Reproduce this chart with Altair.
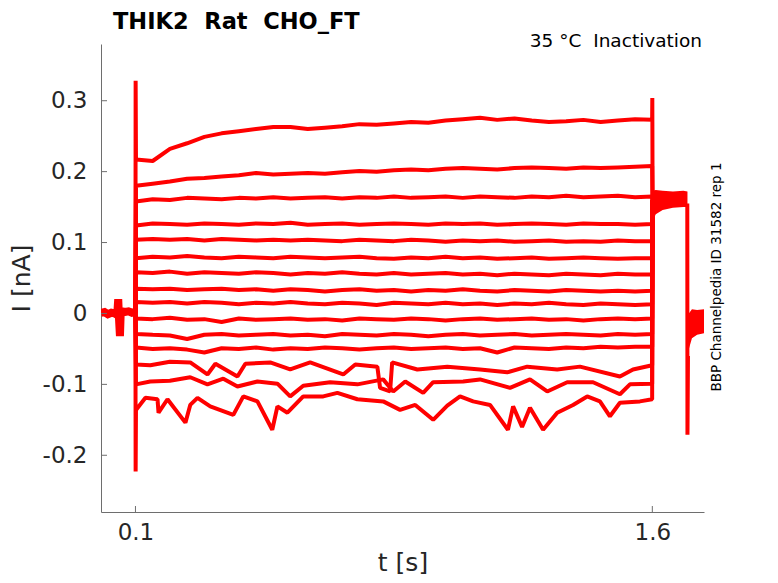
import altair as alt
import pandas as pd

FONT = "DejaVu Sans"
RED = "#ff0000"
AXIS_GRAY = "#6e6e6e"
LABEL_COLOR = "#262626"

# double gaps kept with a no-break space, SVG text would fold them otherwise
TITLE = "THIK2 \u00a0Rat \u00a0CHO_FT"
SUBTITLE = "35 °C \u00a0Inactivation"
SIDE_NOTE = "BBP Channelpedia ID 31582 rep 1"

X_TICKS = [0.1, 1.6]
Y_TICKS = [-0.2, -0.1, 0, 0.1, 0.2, 0.3]

# holding current before the step (all sweeps overlap here)
PRE_T = [0.0, 0.01, 0.02, 0.03, 0.04, 0.047, 0.05, 0.052, 0.055, 0.057, 0.06, 0.07, 0.08, 0.09, 0.0995]
PRE_I = [0.001, 0.002, -0.001, 0.001, 0.0, -0.002, 0.020, -0.005, -0.032, -0.002, 0.003, 0.002, 0.003, 0.001, 0.002]

# capacitive spikes at the step edges
SPIKE_ON_TOP = 0.328
SPIKE_ON_BOTTOM = -0.223
SPIKE_OFF_TOP = 0.304

# sampling times for the flatter sweeps
T_GRID = [0.1015, 0.15, 0.2, 0.25, 0.3, 0.35, 0.4, 0.45, 0.5, 0.55, 0.6, 0.65, 0.7, 0.75,
          0.8, 0.85, 0.9, 0.95, 1.0, 1.05, 1.1, 1.15, 1.2, 1.25, 1.3, 1.35, 1.4, 1.45,
          1.5, 1.55, 1.5995]

SWEEP_01 = [0.217, 0.215, 0.232, 0.240, 0.249, 0.254, 0.257, 0.260, 0.263, 0.263, 0.260, 0.262,
            0.264, 0.267, 0.266, 0.268, 0.270, 0.269, 0.272, 0.274, 0.276, 0.273, 0.275, 0.272,
            0.270, 0.271, 0.273, 0.270, 0.272, 0.274, 0.273]
SWEEP_02 = [0.180, 0.183, 0.186, 0.190, 0.191, 0.193, 0.195, 0.198, 0.196, 0.197, 0.198, 0.197,
            0.199, 0.201, 0.200, 0.202, 0.203, 0.202, 0.204, 0.205, 0.204, 0.203, 0.205, 0.206,
            0.205, 0.204, 0.206, 0.205, 0.206, 0.207, 0.208]
SWEEP_03 = [0.158, 0.161, 0.160, 0.163, 0.162, 0.161, 0.163, 0.162, 0.164, 0.162, 0.163, 0.164,
            0.162, 0.164, 0.163, 0.165, 0.163, 0.164, 0.165, 0.163, 0.165, 0.164, 0.163, 0.165,
            0.164, 0.166, 0.164, 0.165, 0.166, 0.164, 0.165]
SWEEP_04 = [0.124, 0.127, 0.126, 0.125, 0.127, 0.126, 0.125, 0.127, 0.126, 0.128, 0.125, 0.126,
            0.127, 0.125, 0.126, 0.127, 0.126, 0.125, 0.127, 0.126, 0.127, 0.125, 0.126, 0.127,
            0.126, 0.125, 0.127, 0.126, 0.126, 0.125, 0.126]
SWEEP_05 = [0.104, 0.105, 0.104, 0.105, 0.103, 0.105, 0.104, 0.103, 0.104, 0.103, 0.104, 0.103,
            0.102, 0.104, 0.103, 0.102, 0.104, 0.103, 0.101, 0.103, 0.102, 0.103, 0.101, 0.102,
            0.103, 0.101, 0.102, 0.101, 0.103, 0.102, 0.102]
SWEEP_06 = [0.078, 0.080, 0.079, 0.081, 0.079, 0.078, 0.080, 0.079, 0.078, 0.080, 0.079, 0.078,
            0.079, 0.080, 0.078, 0.077, 0.079, 0.078, 0.080, 0.078, 0.079, 0.077, 0.078, 0.079,
            0.077, 0.078, 0.079, 0.078, 0.077, 0.078, 0.078]
SWEEP_07 = [0.058, 0.057, 0.059, 0.056, 0.058, 0.057, 0.056, 0.058, 0.057, 0.055, 0.057, 0.056,
            0.058, 0.056, 0.055, 0.057, 0.055, 0.056, 0.057, 0.055, 0.056, 0.054, 0.056, 0.055,
            0.054, 0.056, 0.055, 0.054, 0.056, 0.055, 0.055]
SWEEP_08 = [0.035, 0.034, 0.035, 0.033, 0.034, 0.035, 0.033, 0.034, 0.032, 0.034, 0.033, 0.031,
            0.033, 0.034, 0.032, 0.033, 0.031, 0.033, 0.032, 0.034, 0.032, 0.031, 0.033, 0.032,
            0.031, 0.033, 0.032, 0.031, 0.032, 0.031, 0.032]
SWEEP_09 = [0.016, 0.015, 0.016, 0.014, 0.016, 0.015, 0.013, 0.015, 0.014, 0.016, 0.014, 0.013,
            0.015, 0.014, 0.012, 0.015, 0.014, 0.013, 0.015, 0.013, 0.014, 0.012, 0.014, 0.013,
            0.015, 0.013, 0.012, 0.014, 0.013, 0.012, 0.013]
SWEEP_10 = [-0.007, -0.008, -0.006, -0.009, -0.008, -0.012, -0.007, -0.009, -0.008, -0.007, -0.009,
            -0.008, -0.010, -0.007, -0.008, -0.009, -0.007, -0.008, -0.010, -0.008, -0.007, -0.009,
            -0.008, -0.007, -0.009, -0.008, -0.010, -0.008, -0.007, -0.008, -0.007]
SWEEP_11 = [-0.029, -0.030, -0.031, -0.036, -0.030, -0.029, -0.031, -0.030, -0.029, -0.031, -0.030,
            -0.032, -0.029, -0.030, -0.031, -0.029, -0.030, -0.032, -0.030, -0.029, -0.031, -0.030,
            -0.029, -0.031, -0.030, -0.029, -0.030, -0.031, -0.029, -0.030, -0.029]
SWEEP_12 = [-0.048, -0.050, -0.049, -0.051, -0.055, -0.049, -0.050, -0.048, -0.051, -0.049, -0.050,
            -0.048, -0.049, -0.051, -0.049, -0.048, -0.050, -0.049, -0.048, -0.050, -0.049, -0.055,
            -0.048, -0.049, -0.050, -0.048, -0.049, -0.047, -0.048, -0.047, -0.047]

# the three lowest sweeps have visible dips, so they keep their own times
SWEEP_13_T = [0.1015, 0.143, 0.2, 0.259, 0.309, 0.332, 0.396, 0.419, 0.491, 0.549, 0.607, 0.703,
              0.738, 0.802, 0.810, 0.839, 0.845, 0.918, 1.005, 1.100, 1.179, 1.237, 1.324, 1.390,
              1.506, 1.544, 1.5995]
SWEEP_13 = [-0.072, -0.073, -0.068, -0.069, -0.086, -0.071, -0.089, -0.071, -0.069, -0.079, -0.069,
            -0.086, -0.072, -0.075, -0.105, -0.110, -0.069, -0.079, -0.075, -0.079, -0.083, -0.075,
            -0.079, -0.075, -0.089, -0.079, -0.073]
SWEEP_14_T = [0.1015, 0.143, 0.2, 0.259, 0.309, 0.355, 0.396, 0.454, 0.512, 0.549, 0.587, 0.665,
              0.744, 0.819, 0.848, 0.883, 0.935, 0.964, 1.051, 1.100, 1.187, 1.245, 1.295, 1.353,
              1.428, 1.506, 1.535, 1.5995]
SWEEP_14 = [-0.100, -0.096, -0.095, -0.090, -0.100, -0.092, -0.103, -0.096, -0.099, -0.117, -0.102,
            -0.097, -0.100, -0.093, -0.110, -0.096, -0.112, -0.097, -0.096, -0.093, -0.105, -0.093,
            -0.110, -0.097, -0.097, -0.114, -0.100, -0.099]
SWEEP_15_T = [0.1015, 0.129, 0.164, 0.167, 0.193, 0.245, 0.259, 0.280, 0.317, 0.384, 0.413, 0.454,
              0.497, 0.512, 0.541, 0.587, 0.645, 0.686, 0.744, 0.819, 0.868, 0.912, 0.964, 1.005,
              1.042, 1.080, 1.129, 1.181, 1.196, 1.222, 1.245, 1.283, 1.324, 1.370, 1.411, 1.448,
              1.477, 1.506, 1.564, 1.5995]
SWEEP_15 = [-0.136, -0.119, -0.121, -0.140, -0.121, -0.154, -0.129, -0.119, -0.131, -0.143, -0.117,
            -0.124, -0.164, -0.131, -0.140, -0.117, -0.117, -0.112, -0.121, -0.124, -0.136, -0.129,
            -0.150, -0.130, -0.117, -0.124, -0.129, -0.164, -0.131, -0.160, -0.133, -0.164, -0.140,
            -0.129, -0.117, -0.124, -0.145, -0.126, -0.124, -0.121]

# tail after the step: all sweeps pile up in one band, then return to holding
TAIL_START = 0.160
TAIL1_T = [1.6005, 1.61, 1.63, 1.66, 1.69, 1.702]
TAIL1_HI = [0.173, 0.174, 0.173, 0.172, 0.173, 0.172]
TAIL1_LO = [0.130, 0.140, 0.146, 0.149, 0.150, 0.150]
DROP_T = [1.7015, 1.702, 1.7035]
DROP_I = [0.155, -0.171, -0.060]
TAIL2_T = [1.7035, 1.706, 1.715, 1.73, 1.75]
TAIL2_HI = [-0.060, 0.000, 0.006, 0.005, 0.006]
TAIL2_LO = [-0.171, -0.050, -0.035, -0.030, -0.028]

GRID_SWEEPS = [SWEEP_01, SWEEP_02, SWEEP_03, SWEEP_04, SWEEP_05, SWEEP_06,
               SWEEP_07, SWEEP_08, SWEEP_09, SWEEP_10, SWEEP_11, SWEEP_12]
OWN_SWEEPS = [(SWEEP_13_T, SWEEP_13), (SWEEP_14_T, SWEEP_14), (SWEEP_15_T, SWEEP_15)]

W, H = 603, 468

rows = []


def add_rows(name, ts, vs):
    for t, v in zip(ts, vs):
        rows.append({"trace": name, "t": t, "i": v, "k": len(rows)})


sweeps = [(T_GRID, s) for s in GRID_SWEEPS] + OWN_SWEEPS
for n, (ts, vs) in enumerate(sweeps):
    head_t, head_i = [0.1], [0.0]
    tail_t, tail_i = [1.6005], [TAIL_START]
    if n == 0:
        head_t, head_i = [0.1, 0.1005], [0.0, SPIKE_ON_TOP]
        tail_t, tail_i = [1.6, 1.6008], [SPIKE_OFF_TOP, TAIL_START]
    if n == len(sweeps) - 1:
        head_t, head_i = [0.1, 0.1005], [0.0, SPIKE_ON_BOTTOM]
    add_rows(f"s{n + 1:02d}", head_t + ts + tail_t, head_i + vs + tail_i)

add_rows("pre", PRE_T, PRE_I)
add_rows("drop", DROP_T, DROP_I)
df = pd.DataFrame(rows)

bands = pd.DataFrame(
    [{"band": "a", "t": t, "i": hi, "lo": lo} for t, hi, lo in zip(TAIL1_T, TAIL1_HI, TAIL1_LO)]
    + [{"band": "b", "t": t, "i": hi, "lo": lo} for t, hi, lo in zip(TAIL2_T, TAIL2_HI, TAIL2_LO)]
)

x_enc = alt.X(
    "t:Q",
    title="t [s]",
    scale=alt.Scale(domain=[0, 1.75], nice=False, zero=False),
    axis=alt.Axis(values=X_TICKS, labelExpr="toString(datum.value)", ticks=False, grid=False,
                  labelPadding=9, titlePadding=6),
)
y_enc = alt.Y(
    "i:Q",
    title="I [nA]",
    scale=alt.Scale(domain=[-0.28, 0.38], nice=False, zero=False),
    axis=alt.Axis(values=Y_TICKS, labelExpr="toString(datum.value)", ticks=False, grid=False,
                  labelPadding=14, titlePadding=8),
)

sweep_lines = (
    alt.Chart(df[~df["trace"].isin(["pre"])])
    .mark_line(color=RED, strokeWidth=4, strokeJoin="bevel", clip=True)
    .encode(x=x_enc, y=y_enc, detail="trace:N", order="k:Q")
)
pre_line = (
    alt.Chart(df[df["trace"] == "pre"])
    .mark_line(color=RED, strokeWidth=8, clip=True)
    .encode(x=x_enc, y=y_enc, order="k:Q")
)
tail_bands = (
    alt.Chart(bands)
    .mark_area(color=RED, opacity=1, clip=True)
    .encode(x=x_enc, y=y_enc, y2="lo:Q", detail="band:N")
)

y_tick_rules = (
    alt.Chart(pd.DataFrame({"i": Y_TICKS}))
    .mark_rule(color=AXIS_GRAY, strokeWidth=1)
    .encode(y=y_enc, x=alt.value(0), x2=alt.value(6))
)
x_tick_rules = (
    alt.Chart(pd.DataFrame({"t": X_TICKS}))
    .mark_rule(color=AXIS_GRAY, strokeWidth=1)
    .encode(x=x_enc, y=alt.value(H), y2=alt.value(H - 6))
)

texts = pd.DataFrame({"label": [TITLE, SUBTITLE, SIDE_NOTE]})
title_text = (
    alt.Chart(texts[texts["label"] == TITLE])
    .mark_text(font=FONT, fontSize=22.5, fontWeight="bold", align="left", baseline="alphabetic",
               color="black")
    .encode(x=alt.value(12), y=alt.value(-15), text="label:N")
)
sub_text = (
    alt.Chart(texts[texts["label"] == SUBTITLE])
    .mark_text(font=FONT, fontSize=18.5, align="right", baseline="alphabetic", color="black")
    .encode(x=alt.value(601), y=alt.value(3), text="label:N")
)
side_text = (
    alt.Chart(texts[texts["label"] == SIDE_NOTE])
    .mark_text(font=FONT, fontSize=13.5, angle=270, align="center", baseline="middle",
               color="black")
    .encode(x=alt.value(616), y=alt.value(233), text="label:N")
)

chart = (
    alt.layer(pre_line, sweep_lines, tail_bands, y_tick_rules, x_tick_rules,
              title_text, sub_text, side_text)
    .properties(
        width=W,
        height=H,
        autosize=alt.AutoSizeParams(type="none"),
        padding={"left": 93, "top": 36, "right": 62, "bottom": 67},
    )
    .configure_view(stroke=None)
    .configure_axis(
        domainColor=AXIS_GRAY,
        domainWidth=1,
        labelFont=FONT,
        labelFontSize=23,
        labelColor=LABEL_COLOR,
        titleFont=FONT,
        titleFontSize=25,
        titleFontWeight="normal",
        titleColor=LABEL_COLOR,
    )
)

chart.save("out.html", embed_options={"renderer": "svg", "actions": False})
